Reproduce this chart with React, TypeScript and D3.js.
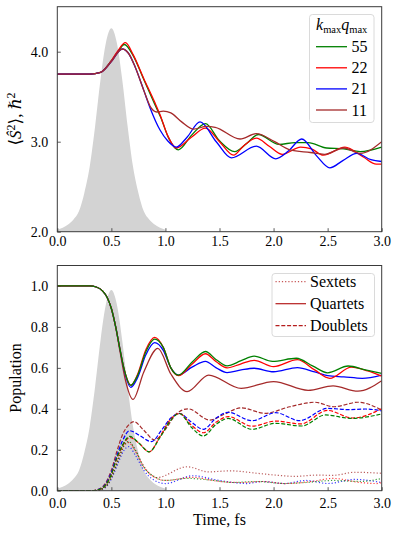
import React, { useEffect, useRef } from 'react';
import * as d3 from 'd3';

type Pt = [number, number];

const xTicks = [0, 0.5, 1, 1.5, 2, 2.5, 3];
const topYTicks = [2, 3, 4];
const botYTicks = [0, 0.2, 0.4, 0.6, 0.8, 1.0];

// pump pulse profile (relative height)
const pulseT = [0, 0.05, 0.1, 0.15, 0.2, 0.25, 0.3, 0.35, 0.4, 0.45, 0.5, 0.55, 0.6, 0.65, 0.7, 0.75, 0.8, 0.85, 0.9, 0.95, 1.0];
const pulseRel = [0.01, 0.02, 0.035, 0.06, 0.1, 0.19, 0.32, 0.52, 0.75, 0.93, 1.0, 0.93, 0.75, 0.52, 0.32, 0.19, 0.1, 0.06, 0.035, 0.02, 0.01];
const pulsePeakTop = 2.26;
const pulsePeakBot = 0.98;

const legendTopLabels = ['55', '22', '21', '11'];
const lineColors = ['green', 'red', 'blue', 'brown'];
const legendBotLabels = ['Sextets', 'Quartets', 'Doublets'];

// <S^2> for each k_max q_max
const s2_55: Pt[] = [[0, 3.75], [0.3, 3.75], [0.4, 3.77], [0.5, 3.9], [0.56, 4.0], [0.62, 4.08], [0.7, 3.96], [0.8, 3.69], [0.9, 3.42], [0.96, 3.26], [1.03, 3.04], [1.12, 2.91], [1.24, 3.07], [1.37, 3.2], [1.5, 3.01], [1.64, 2.89], [1.75, 2.98], [1.86, 3.08], [2.05, 2.97], [2.2, 2.99], [2.32, 2.99], [2.49, 2.93], [2.65, 2.92], [2.8, 2.89], [3.0, 2.94]];
const s2_22: Pt[] = [[0, 3.75], [0.3, 3.75], [0.4, 3.77], [0.5, 3.9], [0.56, 4.01], [0.63, 4.1], [0.7, 3.97], [0.8, 3.7], [0.9, 3.44], [0.95, 3.3], [1.02, 3.07], [1.1, 2.93], [1.24, 3.05], [1.37, 3.15], [1.5, 3.0], [1.63, 2.85], [1.72, 2.95], [1.84, 3.04], [1.96, 2.95], [2.08, 2.86], [2.25, 2.94], [2.35, 2.92], [2.46, 2.85], [2.66, 2.94], [2.83, 2.83], [2.95, 2.75], [3.0, 2.75]];
const s2_21: Pt[] = [[0, 3.75], [0.3, 3.75], [0.4, 3.77], [0.5, 3.89], [0.6, 4.03], [0.66, 3.98], [0.72, 3.83], [0.8, 3.57], [0.86, 3.37], [0.95, 3.13], [1.02, 3.01], [1.1, 2.94], [1.2, 3.05], [1.32, 3.22], [1.47, 3.0], [1.61, 2.82], [1.84, 2.95], [2.02, 2.81], [2.14, 2.9], [2.26, 3.03], [2.4, 2.84], [2.52, 2.71], [2.64, 2.79], [2.77, 2.87], [2.9, 2.8], [3.0, 2.78]];
const s2_11: Pt[] = [[0, 3.75], [0.3, 3.75], [0.4, 3.77], [0.5, 3.89], [0.6, 4.03], [0.66, 3.98], [0.72, 3.83], [0.8, 3.57], [0.86, 3.39], [0.92, 3.33], [0.98, 3.34], [1.05, 3.32], [1.15, 3.22], [1.26, 3.14], [1.38, 3.17], [1.46, 3.16], [1.69, 3.03], [1.84, 3.09], [2.01, 3.0], [2.15, 2.91], [2.34, 2.88], [2.47, 2.86], [2.65, 2.93], [2.8, 2.87], [3.0, 3.0]];

// quartet populations
const q55: Pt[] = [[0, 1.0], [0.3, 1.0], [0.36, 0.995], [0.42, 0.975], [0.46, 0.945], [0.5, 0.89], [0.54, 0.8], [0.58, 0.69], [0.62, 0.59], [0.68, 0.515], [0.74, 0.56], [0.82, 0.68], [0.9, 0.74], [0.98, 0.7], [1.05, 0.6], [1.12, 0.565], [1.25, 0.63], [1.37, 0.68], [1.47, 0.64], [1.57, 0.61], [1.7, 0.635], [1.82, 0.657], [1.99, 0.632], [2.21, 0.647], [2.36, 0.61], [2.5, 0.576], [2.69, 0.609], [2.85, 0.59], [3.0, 0.573]];
const q22: Pt[] = [[0, 1.0], [0.3, 1.0], [0.36, 0.995], [0.42, 0.975], [0.46, 0.945], [0.5, 0.89], [0.54, 0.8], [0.58, 0.69], [0.62, 0.59], [0.68, 0.515], [0.74, 0.565], [0.82, 0.69], [0.9, 0.749], [0.98, 0.7], [1.05, 0.6], [1.12, 0.562], [1.25, 0.62], [1.37, 0.669], [1.47, 0.63], [1.57, 0.6], [1.7, 0.62], [1.82, 0.637], [2.0, 0.606], [2.22, 0.64], [2.38, 0.59], [2.52, 0.549], [2.72, 0.604], [2.87, 0.585], [3.0, 0.56]];
const q21: Pt[] = [[0, 1.0], [0.3, 1.0], [0.36, 0.995], [0.42, 0.975], [0.46, 0.945], [0.5, 0.89], [0.54, 0.8], [0.58, 0.69], [0.62, 0.585], [0.68, 0.505], [0.74, 0.55], [0.82, 0.665], [0.9, 0.723], [0.98, 0.685], [1.05, 0.6], [1.12, 0.565], [1.25, 0.605], [1.37, 0.632], [1.47, 0.6], [1.57, 0.577], [1.7, 0.59], [1.82, 0.598], [2.0, 0.581], [2.22, 0.601], [2.38, 0.58], [2.5, 0.562], [2.65, 0.556], [2.82, 0.549], [3.0, 0.565]];
const q11: Pt[] = [[0, 1.0], [0.3, 1.0], [0.36, 0.995], [0.42, 0.975], [0.46, 0.945], [0.5, 0.89], [0.54, 0.8], [0.58, 0.68], [0.63, 0.54], [0.7, 0.446], [0.8, 0.58], [0.93, 0.695], [1.05, 0.57], [1.2, 0.484], [1.4, 0.565], [1.7, 0.5], [2.0, 0.533], [2.32, 0.49], [2.55, 0.512], [2.78, 0.486], [3.0, 0.537]];

// doublet populations
const d55: Pt[] = [[0, 0], [0.32, 0], [0.4, 0.008], [0.45, 0.03], [0.5, 0.08], [0.55, 0.16], [0.6, 0.22], [0.67, 0.265], [0.75, 0.235], [0.85, 0.19], [0.95, 0.26], [1.05, 0.345], [1.13, 0.377], [1.24, 0.31], [1.35, 0.267], [1.47, 0.325], [1.58, 0.353], [1.8, 0.3], [2.02, 0.329], [2.26, 0.316], [2.48, 0.37], [2.72, 0.353], [3.0, 0.375]];
const d22: Pt[] = [[0, 0], [0.32, 0], [0.4, 0.008], [0.45, 0.03], [0.5, 0.08], [0.55, 0.155], [0.6, 0.215], [0.67, 0.26], [0.75, 0.235], [0.85, 0.19], [0.95, 0.265], [1.05, 0.35], [1.13, 0.377], [1.24, 0.32], [1.35, 0.283], [1.47, 0.335], [1.58, 0.362], [1.8, 0.315], [2.02, 0.34], [2.25, 0.326], [2.5, 0.392], [2.73, 0.355], [3.0, 0.4]];
const d21: Pt[] = [[0, 0], [0.32, 0], [0.4, 0.01], [0.45, 0.035], [0.5, 0.09], [0.55, 0.17], [0.6, 0.24], [0.67, 0.293], [0.76, 0.27], [0.87, 0.24], [0.97, 0.3], [1.05, 0.355], [1.13, 0.377], [1.24, 0.335], [1.35, 0.3], [1.47, 0.355], [1.58, 0.383], [1.8, 0.342], [2.02, 0.381], [2.24, 0.342], [2.5, 0.402], [2.7, 0.396], [2.85, 0.399], [3.0, 0.39]];
const d11: Pt[] = [[0, 0], [0.32, 0], [0.4, 0.012], [0.45, 0.04], [0.5, 0.1], [0.55, 0.19], [0.6, 0.27], [0.65, 0.315], [0.71, 0.337], [0.8, 0.295], [0.9, 0.248], [1.0, 0.3], [1.1, 0.375], [1.21, 0.4], [1.41, 0.345], [1.55, 0.375], [1.7, 0.405], [1.92, 0.378], [2.15, 0.41], [2.38, 0.432], [2.56, 0.41], [2.78, 0.432], [3.0, 0.394]];

// sextet populations
const x55: Pt[] = [[0, 0], [0.35, 0], [0.42, 0.01], [0.47, 0.035], [0.52, 0.09], [0.57, 0.16], [0.62, 0.225], [0.66, 0.24], [0.72, 0.2], [0.8, 0.115], [0.9, 0.068], [1.0, 0.05], [1.2, 0.06], [1.45, 0.05], [1.62, 0.04], [1.85, 0.045], [2.1, 0.035], [2.3, 0.04], [2.55, 0.05], [2.8, 0.045], [3.0, 0.06]];
const x22: Pt[] = [[0, 0], [0.35, 0], [0.42, 0.01], [0.47, 0.035], [0.52, 0.09], [0.57, 0.16], [0.62, 0.22], [0.66, 0.235], [0.72, 0.195], [0.8, 0.115], [0.9, 0.066], [1.0, 0.05], [1.25, 0.065], [1.5, 0.045], [1.7, 0.04], [1.9, 0.045], [2.1, 0.035], [2.35, 0.045], [2.55, 0.06], [2.8, 0.04], [2.95, 0.035], [3.0, 0.04]];
const x21: Pt[] = [[0, 0], [0.35, 0], [0.42, 0.008], [0.47, 0.03], [0.52, 0.08], [0.57, 0.145], [0.62, 0.2], [0.66, 0.215], [0.72, 0.175], [0.8, 0.1], [0.9, 0.05], [1.0, 0.035], [1.25, 0.073], [1.5, 0.05], [1.75, 0.035], [1.9, 0.045], [2.1, 0.035], [2.3, 0.05], [2.5, 0.035], [2.75, 0.055], [3.0, 0.04]];
const x11: Pt[] = [[0, 0], [0.35, 0], [0.42, 0.01], [0.47, 0.035], [0.52, 0.09], [0.57, 0.16], [0.62, 0.225], [0.66, 0.24], [0.72, 0.2], [0.8, 0.12], [0.92, 0.064], [1.2, 0.117], [1.4, 0.092], [1.6, 0.097], [1.85, 0.085], [2.0, 0.077], [2.2, 0.07], [2.4, 0.076], [2.55, 0.075], [2.75, 0.09], [3.0, 0.085]];

const FONT = '"Liberation Serif", "DejaVu Serif", serif';
const W = 399, H = 536;
const L = 57.3, R = 381.7;
const legendRed = '#b51d1d';

const App = () => {
  const ref = useRef<SVGSVGElement>(null);

  useEffect(() => {
    const svg = d3.select(ref.current);
    svg.selectAll('*').remove();
    svg.style('font-family', FONT);

    const x = d3.scaleLinear().domain([0, 3]).range([L, R]);
    const yTop = d3.scaleLinear().domain([2, 4.5]).range([231.7, 6.7]);
    const yBot = d3.scaleLinear().domain([0, 1.1]).range([490.7, 265.5]);

    const panel = (y: d3.ScaleLinear<number, number>, id: string, yTicks: number[], pad: number, base: number, peak: number) => {
      const [y0, y1] = y.range();
      svg.append('clipPath').attr('id', id)
        .append('rect').attr('x', L).attr('y', y1).attr('width', R - L).attr('height', y0 - y1);

      // grey pulse
      const area = d3.area<number>()
        .x((_, i) => x(pulseT[i]))
        .y0(y(base))
        .y1(d => y(base + d * peak))
        .curve(d3.curveMonotoneX);
      svg.append('path').datum(pulseRel).attr('d', area).attr('fill', '#d3d3d3')
        .attr('clip-path', `url(#${id})`);

      // axes
      const xa = svg.append('g').attr('transform', `translate(0,${y0})`)
        .call(d3.axisBottom(x).tickValues(xTicks).tickSize(-3.5).tickPadding(pad).tickFormat(d3.format('.1f')));
      const ya = svg.append('g').attr('transform', `translate(${L},0)`)
        .call(d3.axisLeft(y).tickValues(yTicks).tickSize(-3.5).tickPadding(9).tickFormat(d3.format('.1f')));
      [xa, ya].forEach(a => {
        a.attr('font-family', null);
        a.select('.domain').remove();
        a.selectAll('line').attr('stroke', '#333').attr('stroke-width', 0.8);
        a.selectAll('text').style('font-family', FONT).style('font-size', '14px').attr('fill', '#000');
      });
      return svg.append('g').attr('clip-path', `url(#${id})`);
    };

    const frame = (y: d3.ScaleLinear<number, number>) => {
      const [y0, y1] = y.range();
      svg.append('rect').attr('x', L).attr('y', y1).attr('width', R - L).attr('height', y0 - y1)
        .attr('fill', 'none').attr('stroke', '#3a3a3a').attr('stroke-width', 1);
    };

    const txt = (g: d3.Selection<any, unknown, null, undefined>) =>
      g.append('text').style('font-family', FONT).style('font-size', '16px');

    // ---- top panel
    const gTop = panel(yTop, 'clipTop', topYTicks, 4, 2, pulsePeakTop);
    const lineTop = d3.line<Pt>().x(d => x(d[0])).y(d => yTop(d[1])).curve(d3.curveMonotoneX);
    [s2_55, s2_22, s2_21, s2_11].forEach((s, i) => {
      gTop.append('path').datum(s).attr('d', lineTop).attr('fill', 'none')
        .attr('stroke', lineColors[i]).attr('stroke-width', 1.3);
    });
    frame(yTop);

    // top legend
    const lt = svg.append('g');
    lt.append('rect').attr('x', 309.5).attr('y', 14.5).attr('width', 64.5).attr('height', 108)
      .attr('rx', 3).attr('fill', 'white').attr('fill-opacity', 0.8).attr('stroke', '#d0d0d0').attr('stroke-width', 0.8);
    const title = txt(lt).attr('x', 341.7).attr('y', 30).attr('text-anchor', 'middle');
    title.append('tspan').attr('font-style', 'italic').text('k');
    title.append('tspan').style('font-size', '10.5px').attr('dy', 2.5).text('max');
    title.append('tspan').attr('font-style', 'italic').attr('dy', -2.5).text('q');
    title.append('tspan').style('font-size', '10.5px').attr('dy', 2.5).text('max');
    legendTopLabels.forEach((lab, i) => {
      const yy = 46.7 + i * 21.1;
      lt.append('line').attr('x1', 316).attr('x2', 347).attr('y1', yy).attr('y2', yy)
        .attr('stroke', lineColors[i]).attr('stroke-width', 1.3);
      txt(lt).attr('x', 351.5).attr('y', yy + 5.5).text(lab);
    });

    // top y label
    const ylt = txt(svg).attr('transform', `translate(21,119) rotate(-90)`).attr('text-anchor', 'middle')
      .style('font-size', '17px');
    ylt.append('tspan').text('⟨');
    ylt.append('tspan').attr('font-style', 'italic').text('Ŝ');
    ylt.append('tspan').style('font-size', '12px').attr('dy', -6).text('2');
    ylt.append('tspan').attr('dy', 6).text('⟩, ');
    ylt.append('tspan').attr('font-style', 'italic').text('ℏ');
    ylt.append('tspan').style('font-size', '12px').attr('dy', -6).text('2');

    // ---- bottom panel
    const gBot = panel(yBot, 'clipBot', botYTicks, 7, 0, pulsePeakBot);
    const lineBot = d3.line<Pt>().x(d => x(d[0])).y(d => yBot(d[1])).curve(d3.curveMonotoneX);
    const sext = [x55, x22, x21, x11];
    const quart = [q55, q22, q21, q11];
    const doub = [d55, d22, d21, d11];
    [3, 2, 1, 0].forEach(i => {
      gBot.append('path').datum(sext[i]).attr('d', lineBot).attr('fill', 'none')
        .attr('stroke', lineColors[i]).attr('stroke-width', 1.2).attr('stroke-dasharray', '1.2,2').attr('opacity', 0.75);
      gBot.append('path').datum(doub[i]).attr('d', lineBot).attr('fill', 'none')
        .attr('stroke', lineColors[i]).attr('stroke-width', 1.2).attr('stroke-dasharray', '4,1.8');
      gBot.append('path').datum(quart[i]).attr('d', lineBot).attr('fill', 'none')
        .attr('stroke', lineColors[i]).attr('stroke-width', 1.3);
    });
    frame(yBot);

    // bottom legend
    const lb = svg.append('g');
    lb.append('rect').attr('x', 272).attr('y', 273.5).attr('width', 102.5).attr('height', 63)
      .attr('rx', 3).attr('fill', 'white').attr('fill-opacity', 0.8).attr('stroke', '#d0d0d0').attr('stroke-width', 0.8);
    const dashes = ['1.2,2', null, '4,1.8'];
    legendBotLabels.forEach((lab, i) => {
      const yy = 281.7 + i * 22;
      lb.append('line').attr('x1', 275.5).attr('x2', 306).attr('y1', yy).attr('y2', yy)
        .attr('stroke', legendRed).attr('stroke-width', 1.2)
        .attr('stroke-dasharray', dashes[i]).attr('opacity', i === 0 ? 0.75 : 1);
      txt(lb).attr('x', 310).attr('y', yy + 5.5).text(lab);
    });

    txt(svg).attr('transform', `translate(21,378) rotate(-90)`).attr('text-anchor', 'middle').text('Population');
    txt(svg).attr('x', (L + R) / 2).attr('y', 525).attr('text-anchor', 'middle').text('Time, fs');
  }, []);

  return (
    <div id="chartArea">
      <svg ref={ref} width={W} height={H} style={{ position: 'absolute', left: 0, top: 0, background: 'white' }} />
    </div>
  );
};

export default App;
